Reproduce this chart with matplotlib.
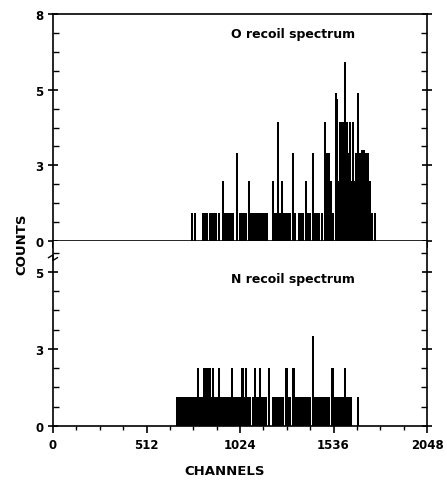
import numpy as np
import matplotlib.pyplot as plt
from matplotlib.ticker import MultipleLocator, FixedLocator

# O recoil spectrum: channel, counts
o_chan = [761, 778, 821, 832, 843, 860, 871, 882, 893, 909, 931, 942, 953, 964, 975, 986,
          1008, 1024, 1035, 1046, 1057, 1073, 1084, 1095, 1106, 1117, 1128, 1139, 1150, 1161,
          1172, 1205, 1216, 1227, 1232, 1243, 1254, 1265, 1276, 1287, 1298, 1314, 1325, 1347,
          1358, 1369, 1385, 1396, 1407, 1424, 1435, 1446, 1457, 1473, 1489, 1500, 1511, 1522,
          1533, 1550, 1555, 1566, 1572, 1577, 1582, 1588, 1593, 1599, 1604, 1610, 1615, 1621,
          1626, 1632, 1637, 1643, 1648, 1659, 1670, 1676, 1681, 1692, 1698, 1703, 1708, 1714,
          1725, 1736, 1747, 1763]
o_counts = [1.0, 1.0, 1.0, 1.0, 1.0, 1.0, 1.0, 1.0, 1.0, 1.0, 2.1, 1.0, 1.0, 1.0, 1.0, 1.0,
            3.1, 1.0, 1.0, 1.0, 1.0, 2.1, 1.0, 1.0, 1.0, 1.0, 1.0, 1.0, 1.0, 1.0,
            1.0, 2.1, 1.0, 1.0, 4.2, 1.0, 2.1, 1.0, 1.0, 1.0, 1.0, 3.1, 1.0, 1.0,
            1.0, 1.0, 2.1, 1.0, 1.0, 3.1, 1.0, 1.0, 1.0, 1.0, 4.2, 3.1, 3.1, 2.1,
            1.0, 5.2, 5.0, 2.1, 4.2, 2.1, 4.2, 4.2, 2.1, 6.3, 2.1, 4.2, 3.1, 2.1,
            4.2, 2.1, 2.1, 4.2, 2.1, 3.1, 5.2, 3.1, 3.1, 3.2, 3.2, 3.2, 3.1, 3.1,
            3.1, 2.1, 1.0, 1.0]

# N recoil spectrum: channel, counts
n_chan = [679, 690, 701, 712, 723, 734, 745, 756, 767, 778, 789, 794, 805, 816, 827, 832,
          838, 843, 849, 860, 865, 876, 882, 887, 898, 909, 914, 925, 936, 947, 958, 969,
          980, 991, 1002, 1013, 1024, 1035, 1040, 1046, 1057, 1068, 1079, 1095, 1106, 1117,
          1128, 1133, 1144, 1155, 1166, 1183, 1205, 1216, 1227, 1238, 1249, 1260, 1276, 1281,
          1292, 1298, 1314, 1320, 1331, 1342, 1353, 1364, 1374, 1385, 1396, 1407, 1424, 1435,
          1446, 1457, 1468, 1478, 1489, 1500, 1511, 1528, 1533, 1544, 1555, 1566, 1577, 1588,
          1599, 1610, 1621, 1632, 1670]
n_counts = [1, 1, 1, 1, 1, 1, 1, 1, 1, 1, 1, 2, 1, 1, 2, 2,
            2, 1, 2, 2, 1, 2, 1, 1, 1, 2, 1, 1, 1, 1, 1, 1,
            2, 1, 1, 1, 1, 2, 2, 1, 2, 1, 1, 1, 2, 1,
            1, 2, 1, 1, 1, 2, 1, 1, 1, 1, 1, 1, 2, 2,
            1, 1, 2, 2, 1, 1, 1, 1, 1, 1, 1, 1, 3.1, 1,
            1, 1, 1, 1, 1, 1, 1, 2, 2, 1, 1, 1, 1, 1,
            2, 1, 1, 1, 1]

x_ticks = [0, 512, 1024, 1536, 2048]
x_labels = ["0", "512", "1024", "1536", "2048"]
y_ticks = [0, 8 / 3, 16 / 3, 8]
y_labels = ["0", "3", "5", "8"]

plt.rcParams['font.family'] = 'DejaVu Sans'
fig = plt.figure(figsize=(4.47, 4.81), dpi=100)
W, H = 447, 481
ax1 = fig.add_axes([53 / W, 1 - 242 / H, 374 / W, 227 / H])
ax2 = fig.add_axes([53 / W, 1 - 427 / H, 374 / W, 185 / H])

ax1.vlines(o_chan, 0, o_counts, color='black', linewidth=1.45)
ax2.vlines(n_chan, 0, n_counts, color='black', linewidth=1.45)

ax1.set_ylim(0, 8)
ax2.set_ylim(0, 6.4)

for ax in (ax1, ax2):
    ax.set_xlim(0, 2048)
    ax.xaxis.set_major_locator(FixedLocator(x_ticks))
    ax.xaxis.set_minor_locator(MultipleLocator(128))
    ax.yaxis.set_major_locator(FixedLocator(y_ticks))
    ax.yaxis.set_minor_locator(MultipleLocator(2 / 3))
    for s in ax.spines.values():
        s.set_linewidth(1.2)
    ax.tick_params(axis='y', which='major', direction='inout', length=7, width=1.2,
                   right=True, labelsize=8.5)
    ax.tick_params(axis='y', which='minor', direction='in', length=4, width=1.0, right=True)
    ax.tick_params(axis='x', which='major', direction='out', length=5, width=1.2, labelsize=8.5)
    ax.tick_params(axis='x', which='minor', direction='out', length=3, width=1.0)
    ax.set_yticklabels(y_labels, fontweight='bold')

ax1.set_xticklabels([])
ax2.set_xticklabels(x_labels, fontweight='bold')
ax2.spines['top'].set_visible(False)

ax1.text(0.475, 0.915, "O recoil spectrum", transform=ax1.transAxes, fontsize=9,
         fontweight='bold', ha='left', va='center')
ax2.text(0.475, 0.795, "N recoil spectrum", transform=ax2.transAxes, fontsize=9,
         fontweight='bold', ha='left', va='center')

fig.text(225 / W, 1 - 472 / H, "CHANNELS", fontsize=9.5, fontweight='bold',
         ha='center', va='center')
fig.text(22 / W, 1 - 244 / H, "COUNTS", rotation=90, fontsize=9.5, fontweight='bold',
         ha='center', va='center')

# break mark on left axis of lower panel
ax2.plot([-0.012, 0.0, 0.0, 0.012], [0.91, 0.925, 0.895, 0.91], transform=ax2.transAxes,
         color='black', linewidth=1.0, clip_on=False)

fig.savefig("out.png", dpi=100)
